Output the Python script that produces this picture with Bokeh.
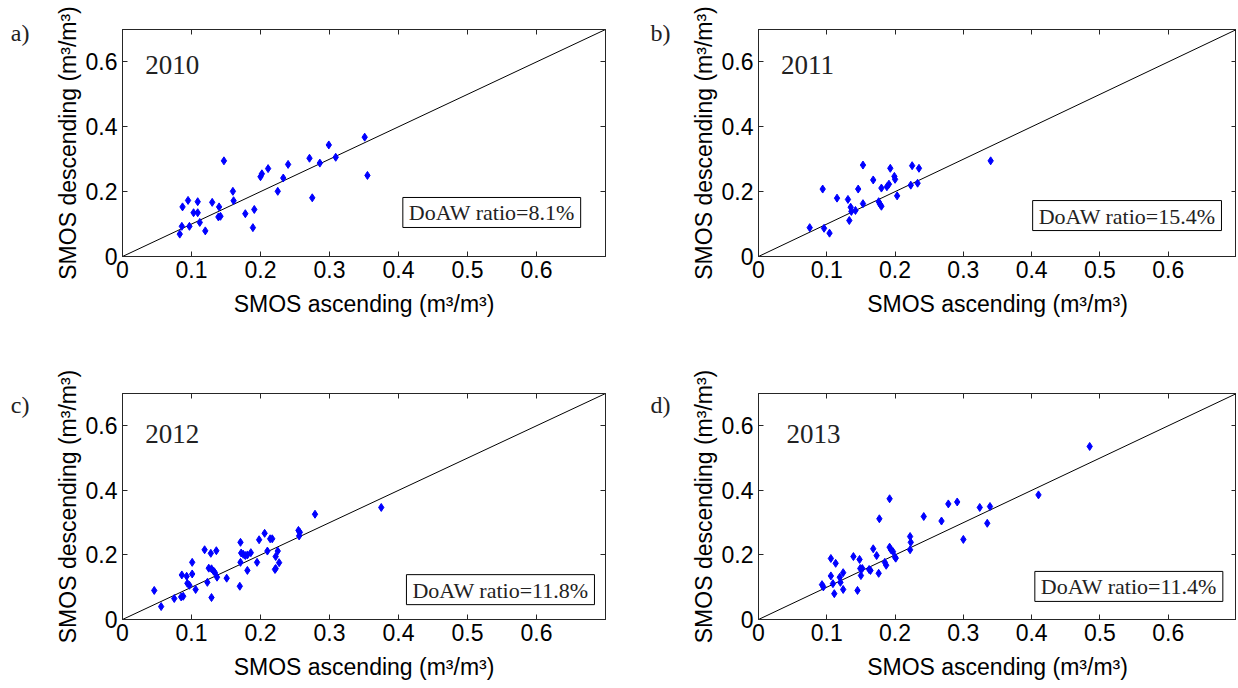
from bokeh.plotting import figure
from bokeh.layouts import column, row
from bokeh.models import FixedTicker, CustomJSTickFormatter, LinearAxis, Label
from bokeh.embed import file_html
from bokeh.resources import INLINE

# ---------------- data ----------------
years = ["2010", "2011", "2012", "2013"]
panel_letters = ["a)", "b)", "c)", "d)"]
doaw_ratios = ["8.1%", "15.4%", "11.8%", "11.4%"]

x_ticks = [0, 0.1, 0.2, 0.3, 0.4, 0.5, 0.6]
y_ticks = [0, 0.2, 0.4, 0.6]
one_to_one = [0, 0.7]

asc_2010 = [0.083, 0.087, 0.086, 0.095, 0.097, 0.103, 0.109, 0.109, 0.112, 0.120,
            0.130, 0.139, 0.140, 0.142, 0.147, 0.160, 0.161, 0.178, 0.189, 0.191,
            0.200, 0.202, 0.211, 0.225, 0.233, 0.240, 0.271, 0.275, 0.286, 0.299,
            0.309, 0.351, 0.355]
desc_2010 = [0.069, 0.153, 0.093, 0.173, 0.093, 0.135, 0.169, 0.135, 0.105, 0.079,
             0.167, 0.122, 0.153, 0.124, 0.295, 0.201, 0.172, 0.132, 0.089, 0.145,
             0.246, 0.255, 0.271, 0.201, 0.242, 0.284, 0.303, 0.181, 0.288, 0.344,
             0.306, 0.368, 0.250]

asc_2011 = [0.075, 0.094, 0.096, 0.104, 0.115, 0.131, 0.133, 0.135, 0.136, 0.142,
            0.146, 0.153, 0.153, 0.168, 0.176, 0.178, 0.180, 0.180, 0.188, 0.191,
            0.193, 0.199, 0.200, 0.203, 0.223, 0.225, 0.233, 0.235, 0.340]
desc_2011 = [0.089, 0.208, 0.087, 0.072, 0.180, 0.176, 0.111, 0.152, 0.139, 0.142,
             0.208, 0.282, 0.163, 0.236, 0.169, 0.161, 0.155, 0.211, 0.215, 0.223,
             0.272, 0.247, 0.238, 0.187, 0.220, 0.280, 0.226, 0.272, 0.295]

asc_2012 = [0.046, 0.056, 0.075, 0.085, 0.088, 0.086, 0.093, 0.094, 0.097, 0.101,
            0.101, 0.106, 0.119, 0.123, 0.128, 0.129, 0.125, 0.129, 0.132, 0.134,
            0.136, 0.137, 0.151, 0.170, 0.171, 0.172, 0.171, 0.175, 0.178, 0.181,
            0.186, 0.181, 0.195, 0.198, 0.206, 0.210, 0.214, 0.217, 0.222, 0.225,
            0.227, 0.221, 0.222, 0.255, 0.257, 0.256, 0.279, 0.375]
desc_2012 = [0.090, 0.040, 0.065, 0.070, 0.072, 0.138, 0.134, 0.112, 0.106, 0.177,
             0.141, 0.093, 0.216, 0.115, 0.205, 0.068, 0.159, 0.157, 0.150, 0.145,
             0.213, 0.131, 0.128, 0.103, 0.239, 0.206, 0.177, 0.202, 0.198, 0.200,
             0.207, 0.152, 0.177, 0.247, 0.267, 0.212, 0.250, 0.250, 0.195, 0.212,
             0.176, 0.155, 0.158, 0.276, 0.270, 0.259, 0.326, 0.347]

asc_2013 = [0.093, 0.095, 0.106, 0.113, 0.106, 0.109, 0.111, 0.119, 0.120, 0.124,
            0.124, 0.139, 0.148, 0.149, 0.152, 0.150, 0.145, 0.162, 0.164, 0.168,
            0.173, 0.176, 0.185, 0.187, 0.192, 0.194, 0.197, 0.200, 0.201, 0.222,
            0.223, 0.222, 0.177, 0.192, 0.242, 0.268, 0.278, 0.291, 0.300, 0.324,
            0.335, 0.339, 0.410, 0.485]
desc_2013 = [0.108, 0.101, 0.189, 0.174, 0.135, 0.111, 0.080, 0.131, 0.115, 0.145,
             0.093, 0.195, 0.186, 0.158, 0.158, 0.136, 0.090, 0.155, 0.152, 0.219,
             0.198, 0.143, 0.177, 0.168, 0.224, 0.216, 0.210, 0.193, 0.190, 0.257,
             0.239, 0.216, 0.312, 0.374, 0.319, 0.305, 0.358, 0.364, 0.248, 0.347,
             0.298, 0.350, 0.386, 0.536]

asc = [asc_2010, asc_2011, asc_2012, asc_2013]
desc = [desc_2010, desc_2011, desc_2012, desc_2013]

SANS = "Liberation Sans"
SERIF = "Liberation Serif"
AX = "#262626"
fmt = CustomJSTickFormatter(code="return tick == 0 ? '0' : tick.toFixed(1);")
blank = CustomJSTickFormatter(code="return '';")


def make_panel(i, top_row, left_col):
    p = figure(
        frame_width=483 if left_col else 478,
        frame_height=227 if top_row else 226,
        x_range=(0, 0.7), y_range=(0, 0.7),
        output_backend="svg", toolbar_location=None,
        min_border_left=122 if left_col else 130,
        min_border_right=23 if left_col else 0,
        min_border_top=29 if top_row else 45,
        min_border_bottom=92 if top_row else 61,
        x_axis_label="SMOS ascending (m³/m³)",
        y_axis_label="SMOS descending (m³/m³)",
    )
    p.xgrid.visible = False
    p.ygrid.visible = False
    p.outline_line_color = AX
    p.outline_line_width = 1
    p.background_fill_color = "white"
    p.border_fill_color = "white"

    p.xaxis.ticker = FixedTicker(ticks=x_ticks)
    p.yaxis.ticker = FixedTicker(ticks=y_ticks)
    for ax in (p.xaxis[0], p.yaxis[0]):
        ax.formatter = fmt
        ax.major_tick_in = 5
        ax.major_tick_out = 0
        ax.minor_tick_in = 0
        ax.minor_tick_out = 0
        ax.axis_line_color = AX
        ax.major_tick_line_color = AX
        ax.major_label_text_font = SANS
        ax.major_label_text_font_size = "23px"
        ax.major_label_text_color = "black"
        ax.axis_label_text_font = SANS
        ax.axis_label_text_font_size = "23px"
        ax.axis_label_text_font_style = "normal"
        ax.axis_label_text_color = "black"
    p.xaxis.major_label_standoff = 4
    p.xaxis.axis_label_standoff = 10
    p.yaxis.major_label_standoff = 5
    p.yaxis.axis_label_standoff = 2

    # mirrored inward ticks on top and right (box on)
    for loc, tk in (("above", x_ticks), ("right", y_ticks)):
        ax = LinearAxis(ticker=FixedTicker(ticks=tk), formatter=blank)
        ax.major_label_text_font_size = "10px"
        ax.major_label_standoff = 0
        ax.major_tick_in = 5
        ax.major_tick_out = 0
        ax.minor_tick_in = 0
        ax.minor_tick_out = 0
        ax.axis_line_color = AX
        ax.major_tick_line_color = AX
        p.add_layout(ax, loc)

    # panel letter, drawn as the only label of an outer left axis
    letter_y = 0.688 if top_row else 0.664
    letter_fmt = CustomJSTickFormatter(code="return '%s';" % panel_letters[i])
    lax = LinearAxis(ticker=FixedTicker(ticks=[letter_y]), formatter=letter_fmt)
    lax.axis_line_color = None
    lax.major_tick_line_color = None
    lax.minor_tick_line_color = None
    lax.major_tick_in = 0
    lax.major_tick_out = 0
    lax.major_label_standoff = 22 if left_col else 17
    lax.major_label_text_font = SERIF
    lax.major_label_text_font_size = "24px"
    lax.major_label_text_color = "#222222"
    p.add_layout(lax, "left")

    p.line(one_to_one, one_to_one, line_color="black", line_width=1)
    p.scatter(asc[i], desc[i], marker="diamond", size=8,
              fill_color="#0000ff", line_color="#0000ff")

    # year
    p.add_layout(Label(x=0.033 if i != 3 else 0.041,
                       y=0.59 if top_row else 0.575,
                       text=years[i], text_font=SERIF,
                       text_font_size="27px", text_color="#222222",
                       text_align="left", text_baseline="middle"))
    # DoAW box
    box_x = [0.664, 0.678, 0.684, 0.680][i]
    box_y = [0.0895, 0.080, 0.046, 0.056][i]
    p.add_layout(Label(x=box_x, y=box_y, text="DoAW ratio=" + doaw_ratios[i],
                       text_font=SERIF, text_font_size="22px",
                       text_color="#222222",
                       text_align="right", text_baseline="bottom",
                       border_line_color="black", border_line_width=1,
                       background_fill_color="white",
                       padding=dict(left=6, right=6, top=3, bottom=2)))
    return p


pa = make_panel(0, True, True)
pb = make_panel(1, True, False)
pc = make_panel(2, False, True)
pd = make_panel(3, False, False)

layout = column(row(pa, pb), row(pc, pd))
open("out.html", "w").write(file_html(layout, INLINE))
